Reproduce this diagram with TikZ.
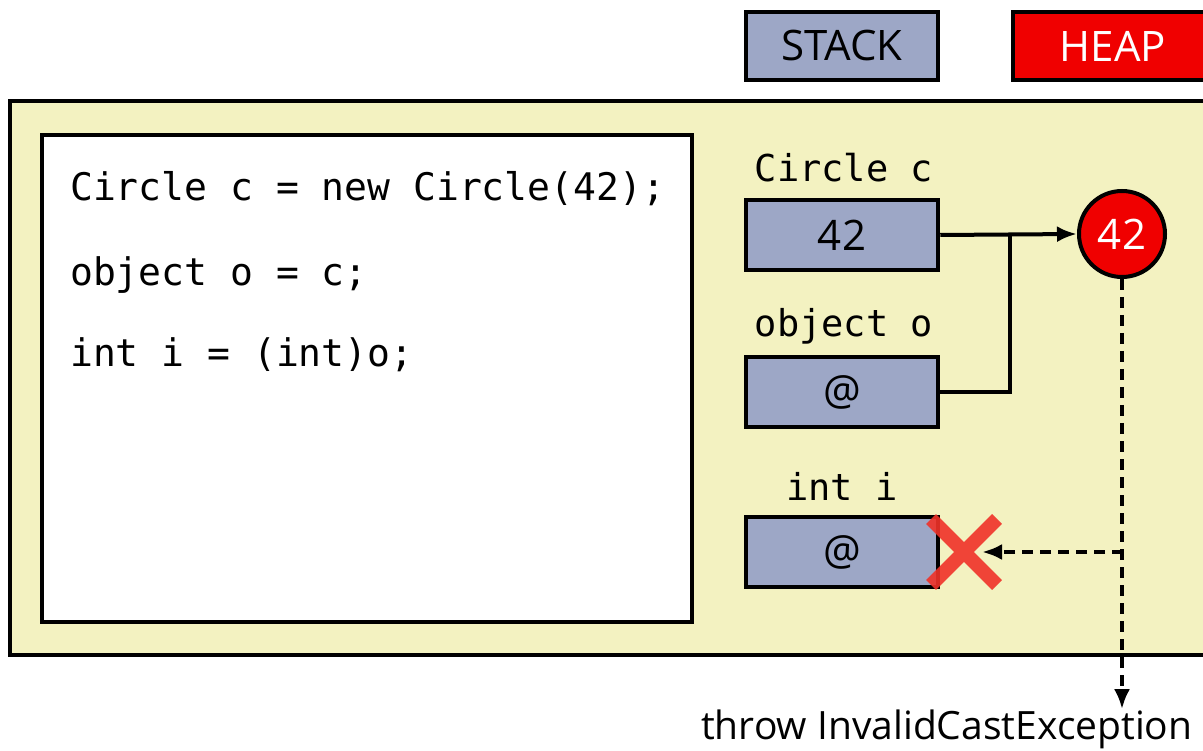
\documentclass[tikz,border=0pt]{standalone}
\usepackage{fontspec}
\setmainfont{Open Sans}
\setmonofont{DejaVu Sans Mono}
\usetikzlibrary{arrows.meta,shapes.misc}

\definecolor{stackfill}{RGB}{157,167,198}
\definecolor{panelfill}{RGB}{243,242,193}
\definecolor{heapred}{RGB}{240,0,0}
\definecolor{crossred}{RGB}{240,50,40}

\tikzset{
  slot/.style={draw=black,line width=4.5pt,fill=stackfill,minimum width=192pt,minimum height=70pt,
    inner sep=0pt,font=\fontsize{42}{44}\selectfont},
  varname/.style={font=\ttfamily\fontsize{37}{40}\selectfont,inner sep=0pt},
  codeline/.style={font=\ttfamily\fontsize{38}{40}\selectfont,inner sep=0pt,anchor=base west},
  dash arrow/.style={line width=4.5pt,dash pattern=on 11pt off 7pt,-{Latex[length=20pt,width=16pt]}}
}

\begin{document}
\begin{tikzpicture}[x=1pt,y=-1pt,>={Latex[length=20pt,width=16pt]}]
\useasboundingbox (0,0) rectangle (1203,751);
% legend
\node[slot,minimum height=68pt] (stack) at (842,46) {STACK};
\node[slot,fill=heapred,text=white,minimum width=200pt,minimum height=68pt] (heap) at (1113,46) {HEAP};
% frame and code
\filldraw[fill=panelfill,draw=black,line width=4pt] (10,101) rectangle (1220,655);
\filldraw[fill=white,draw=black,line width=4.5pt] (42,135) rectangle (692,622);
\node[codeline] (line1) at (70,201) {Circle c = new Circle(42);};
\node[codeline] (line2) at (70,286) {object o = c;};
\node[codeline] (line3) at (70,367) {int i = (int)o;};
% stack slots
\node[varname] (cname) at (844,168) {Circle c};
\node[slot] (cval) at (842,235) {42};
\node[varname] (oname) at (844,326) {object o};
\node[slot] (oval) at (842,392) {@};
\node[varname] (iname) at (842,486) {int i};
\node[slot] (ival) at (842,552) {@};
% heap object
\node[circle,draw=black,line width=4pt,fill=heapred,text=white,minimum size=86pt,inner sep=0pt,
  font=\fontsize{42}{44}\selectfont] (obj) at (1122,234) {42};
\coordinate (joint) at (1010,235);
\draw[line width=4pt,->] (cval.east) -- (obj.west);
\draw[line width=4pt] (oval.east) -| (joint);
% failed cast
\node[cross out,draw=crossred,draw opacity=0.9,line width=14pt,minimum size=52pt] (fail) at (964,552) {};
\coordinate (tee) at (1123,552);
\draw[dash arrow] (tee) -- ([xshift=18pt]fail.center);
\node[anchor=base west,inner sep=0pt,font=\fontsize{39}{44}\selectfont] (exc) at (701,739) {throw InvalidCastException};
\draw[dash arrow] (obj.south) -- (obj.south |- exc.north);
\end{tikzpicture}
\end{document}
